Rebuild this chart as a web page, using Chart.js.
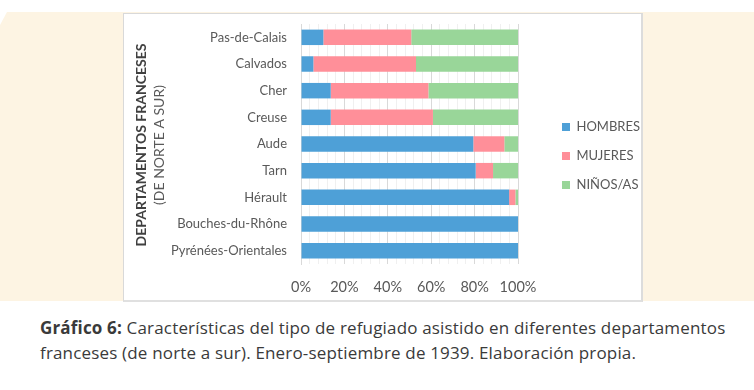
<!DOCTYPE html>
<html>
<head>
<meta charset="utf-8">
<script src="https://cdn.jsdelivr.net/npm/chart.js@4.4.1/dist/chart.umd.min.js"></script>
<style>
  html, body { margin:0; padding:0; background:#fff; width:754px; height:390px; overflow:hidden; }
  #cream { position:absolute; left:0; top:12px; width:754px; height:289px; background:#fdf4e3;
           clip-path: polygon(7px 0, 100% 0, 100% 100%, 0 100%, 0 13px); }
  #box { position:absolute; left:123px; top:13px; width:517px; height:286px; background:#fff;
         border:1px solid #d9d9d9; border-right:2px solid #dcdcdc; border-bottom:2px solid #e0e0e0; }
  #wrap { position:absolute; left:124px; top:14px; width:530px; height:286px; }
  #caption { position:absolute; left:40px; top:315px; width:714px; font-family:"Open Sans", sans-serif;
             font-size:17px; letter-spacing:0.17px; line-height:25px; color:#3a3a3a; white-space:nowrap; }
  #caption b { font-weight:700; }
</style>
</head>
<body>
<div id="cream"></div>
<div id="box"></div>
<div id="wrap"><canvas id="c" width="530" height="286"></canvas></div>
<div id="caption"><b>Gráfico 6:</b> Características del tipo de refugiado asistido en diferentes departamentos<br>franceses (de norte a sur). Enero-septiembre de 1939. Elaboración propia.</div>
<script>
const categories = ['Pas-de-Calais','Calvados','Cher','Creuse','Aude','Tarn','Hérault','Bouches-du-Rhône','Pyrénées-Orientales'];
const hombres = [10.3, 5.7, 13.7, 13.7, 79.4, 80.5, 95.9, 100, 100];
const mujeres = [40.5, 47.3, 45.0, 47.1, 14.3, 8.0, 2.9, 0, 0];
const ninos   = [49.2, 47.0, 41.3, 39.2, 6.3, 11.5, 1.2, 0, 0];
const seriesNames = ['HOMBRES', 'MUJERES', 'NIÑOS/AS'];
const yTitle = ['DEPARTAMENTOS FRANCESES', '(DE NORTE A SUR)'];

const colors = ['#4ea0d7', '#ff8f99', '#99d699'];
const CANVAS_W = 530;
const LEGEND_LEFT = 422;
const LEGEND_SHIFT = -6;

const yTitlePlugin = {
  id: 'ytitle',
  afterLayout(chart) {
    if (chart.legend) { chart.legend.top += LEGEND_SHIFT; chart.legend.bottom += LEGEND_SHIFT; }
  },
  afterDraw(chart) {
    const ctx = chart.ctx;
    const ca = chart.chartArea;
    const cy = (ca.top + ca.bottom) / 2 + 1;
    ctx.save();
    ctx.translate(17, cy);
    ctx.rotate(-Math.PI / 2);
    ctx.textAlign = 'center';
    ctx.textBaseline = 'middle';
    ctx.fillStyle = '#404040';
    ctx.font = 'bold 14px Lato';
    ctx.fillText(yTitle[0], 0, 0);
    ctx.fillStyle = '#595959';
    ctx.font = '14px Lato';
    ctx.fillText(yTitle[1], 0, 18);
    ctx.restore();
  }
};

function build() {
  const chart = new Chart(document.getElementById('c'), {
    type: 'bar',
    data: {
      labels: categories,
      datasets: [
        { label: seriesNames[0], data: hombres, backgroundColor: colors[0] },
        { label: seriesNames[1], data: mujeres, backgroundColor: colors[1] },
        { label: seriesNames[2], data: ninos, backgroundColor: colors[2] }
      ]
    },
    options: {
      indexAxis: 'y',
      responsive: false,
      animation: false,
      devicePixelRatio: 1,
      layout: { padding: { top: 10, bottom: 0, left: 0, right: 8 } },
      datasets: { bar: { categoryPercentage: 1, barPercentage: 0.58, borderWidth: 0 } },
      plugins: {
        legend: {
          position: 'right',
          maxWidth: 200,
          labels: { boxWidth: 8, boxHeight: 8, padding: 16, color: '#595959',
                    font: { family: 'Lato', size: 13 } }
        },
        tooltip: { enabled: false }
      },
      scales: {
        x: {
          stacked: true, min: 0, max: 100,
          afterFit: s => { s.height = 36; },
          ticks: { stepSize: 4, autoSkip: false, maxRotation: 0, padding: 15, color: '#595959',
                   font: { family: 'Lato', size: 14.5 },
                   callback: v => (v % 20 === 0 ? v + '%' : '') },
          grid: { drawTicks: false,
                  color: c => (c.tick && c.tick.value % 20 === 0 ? '#d9d9d9' : '#f0f0f0') },
          border: { display: false }
        },
        y: {
          stacked: true,
          afterFit: s => { s.width = 177; },
          ticks: { padding: 0, color: '#595959', font: { family: 'Lato', size: 13 } },
          grid: { display: false, drawTicks: true, tickLength: 14 },
          border: { display: true, color: '#d9d9d9' }
        },
        yR: {
          type: 'category', position: 'right', display: true,
          afterFit: s => { s.width = 28; },
          ticks: { display: false },
          grid: { display: false, drawTicks: false },
          border: { display: false }
        }
      }
    },
    plugins: [yTitlePlugin]
  });
  const lw = chart.legend.width;
  chart.options.layout.padding.right = Math.max(0, CANVAS_W - LEGEND_LEFT - lw);
  chart.update();
}

if (document.fonts && document.fonts.load) {
  Promise.all([
    document.fonts.load('13px Lato'), document.fonts.load('bold 14px Lato'),
    document.fonts.load('17px "Open Sans"'), document.fonts.load('bold 17px "Open Sans"')
  ]).then(build, build);
} else { build(); }
</script>
</body>
</html>
